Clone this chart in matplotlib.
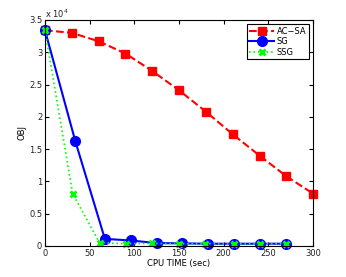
import matplotlib.pyplot as plt

acsa_x = [0, 30, 60, 90, 120, 150, 180, 210, 240, 270, 300]
acsa_y = [33400, 33000, 31700, 29800, 27100, 24100, 20800, 17300, 14000, 10800, 8100]
sg_x = [0, 34, 67, 96, 125, 153, 182, 211, 240, 270]
sg_y = [33400, 16200, 1100, 850, 450, 400, 350, 350, 350, 350]
ssg_x = [0, 31, 61, 91, 120, 150, 179, 211, 240, 270]
ssg_y = [33400, 8100, 500, 350, 400, 350, 350, 350, 350, 350]

fig = plt.figure(figsize=(3.46, 2.77), dpi=100)
ax = fig.add_axes([0.130, 0.112, 0.775, 0.816])

ax.plot(acsa_x, acsa_y, 'r--s', lw=1.5, ms=6, label='AC\u2212SA', clip_on=False)
ax.plot(sg_x, sg_y, 'b-o', lw=1.5, ms=7, label='SG', clip_on=False)
ax.plot(ssg_x, ssg_y, ':x', color='#00ff00', lw=1.2, ms=5, mew=2, label='SSG', clip_on=False)

ax.set_xlim(0, 300)
ax.set_ylim(0, 35000)
ax.set_xticks(range(0, 301, 50))
ax.set_yticks(range(0, 35001, 5000))
ax.set_yticklabels(['0', '0.5', '1', '1.5', '2', '2.5', '3', '3.5'])
ax.tick_params(direction='in', labelsize=6, length=3, top=True, right=True, pad=2,
               labelcolor='#222222')
ax.text(0.0, 1.01, r'x 10$^4$', transform=ax.transAxes, fontsize=6, color='#222222')
ax.set_xlabel('CPU TIME (sec)', fontsize=6, labelpad=1)
ax.set_ylabel('OBJ', fontsize=6, labelpad=2)
leg = ax.legend(loc='upper right', fontsize=6, fancybox=False, framealpha=1,
                edgecolor='black', borderpad=0.3, labelspacing=0.2, handlelength=3,
                handletextpad=0.3)
leg.get_frame().set_linewidth(0.8)

fig.savefig('out.png', dpi=100)
